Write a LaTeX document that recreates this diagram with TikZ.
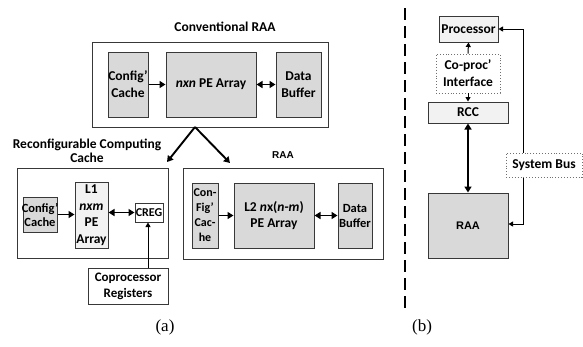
\documentclass[tikz,border=0pt]{standalone}
\usepackage{fontspec}
\setmainfont{Carlito}
\newfontfamily\capfont{Liberation Serif}
\newfontfamily\arialfont{Liberation Sans}
\usetikzlibrary{arrows.meta}
\definecolor{boxgray}{HTML}{D9D9D9}
\definecolor{boxlight}{HTML}{F2F2F2}
\definecolor{edge}{HTML}{383838}
\definecolor{dotedge}{HTML}{707070}

\begin{document}
\begin{tikzpicture}[x=1pt,y=-1pt,
  txt/.style={inner sep=0pt, align=center, font=\fontsize{13.5}{17}\selectfont\bfseries},
  graybox/.style={draw=edge, line width=1pt, inner sep=0pt, fill=boxgray},
  lightbox/.style={draw=edge, line width=1pt, inner sep=0pt, fill=boxlight},
  whitebox/.style={draw=edge, line width=1pt, inner sep=0pt, fill=white},
  frame/.style={draw=edge, line width=1pt, inner sep=0pt, fill=white},
  dotbox/.style={draw=dotedge, dotted, line width=0.9pt, inner sep=0pt, fill=white},
  heavy/.style={line width=1.9pt, -{Triangle[length=6pt,width=7pt]}},
  heavyboth/.style={line width=1.9pt, {Triangle[length=6pt,width=7pt]}-{Triangle[length=6pt,width=7pt]}},
  thin/.style={line width=1pt, -{Triangle[length=4.5pt,width=5pt]}},
  thinboth/.style={line width=1pt, {Triangle[length=4.5pt,width=5pt]}-{Triangle[length=4.5pt,width=5pt]}},
  sz/.style n args={2}{minimum width=#1, minimum height=#2}
]
\useasboundingbox (0,0) rectangle (583,346);

% ---------------- (a) conventional RAA ----------------
\node[txt] (convtitle) at (225,27) {Conventional RAA};
\node[frame, sz={236pt}{85pt}] (conv) at (210,84.5) {};
\node[graybox, sz={40pt}{65pt}] (ccache) at (128,84.5) {};
\node[txt] at (ccache.center) {Config'\\Cache};
\node[graybox, sz={90pt}{65pt}] (pe) at (211,84.5) {};
\node[txt] at (pe.center) {\textit{nxn} PE Array};
\node[graybox, sz={45pt}{65pt}] (dbuf) at (298.5,84.5) {};
\node[txt] at (dbuf.center) {Data\\Buffer};
\draw[heavy] (ccache.east) -- (pe.west);
\draw[heavyboth] (pe.east) -- (dbuf.west);

% split into the cache and the remaining array
\coordinate (apex) at (195,127);
\coordinate (tipl) at (167,162);
\coordinate (tipr) at (230,163);
\draw[heavy] (apex) -- (tipl);
\draw[heavy] (apex) -- (tipr);

% ---------------- reconfigurable computing cache ----------------
\node[txt, font=\fontsize{13.5}{14}\selectfont\bfseries] (rcctitle) at (87,151) {Reconfigurable Computing\\Cache};
\node[frame, sz={151pt}{90pt}] (rccbox) at (92.5,213) {};
\node[graybox, sz={34pt}{35pt}] (rcache) at (40,214.5) {};
\node[txt, font=\fontsize{12.5}{14}\selectfont\bfseries] at (rcache.center) {Config'\\Cache};
\node[lightbox, sz={33pt}{66pt}] (l1) at (91.5,215) {};
\node[txt, font=\fontsize{13.5}{16.5}\selectfont\bfseries] at (l1.center) {L1\\\textit{nxm}\\PE\\Array};
\node[whitebox, sz={28pt}{19pt}] (creg) at (149,212.5) {};
\node[txt, font=\fontsize{12}{14}\selectfont\bfseries] at (creg.center) {CREG};
\node[whitebox, sz={80pt}{36pt}] (copreg) at (128,286) {};
\node[txt, font=\fontsize{13}{16}\selectfont\bfseries] at (copreg.center) {Coprocessor\\Registers};
\draw[heavy] (rcache.east) -- (l1.west |- rcache.east);
\draw[heavyboth] (l1.east |- creg.west) -- (creg.west);
\draw[thin] (copreg.north -| creg.south) ++(-1,0) coordinate (cpup) -- (cpup |- creg.south);

% ---------------- remaining RAA ----------------
\node[txt, font=\arialfont\fontsize{10}{11}\selectfont\bfseries] (raatitle) at (283,155) {RAA};
\node[frame, sz={200pt}{91pt}] (raabox) at (283,213.5) {};
\node[graybox, sz={26pt}{65pt}] (rcache2) at (205,215.5) {};
\node[txt, font=\fontsize{12}{15}\selectfont\bfseries] at (rcache2.center) {Con-\\Fig'\\Cac-\\he};
\node[graybox, sz={80pt}{65pt}] (l2) at (274,215.5) {};
\node[txt, font=\fontsize{13.5}{15.5}\selectfont\bfseries] at (l2.center) {L2 \textit{n}x(\textit{n}-\textit{m})\\PE Array};
\node[graybox, sz={34pt}{65pt}] (dbuf2) at (355,215.5) {};
\node[txt, font=\fontsize{12.5}{15}\selectfont\bfseries] at (dbuf2.center) {Data\\Buffer};
\draw[heavy] (rcache2.east) -- (l2.west |- rcache2.east);
\draw[heavyboth] (l2.east) -- (dbuf2.west);

\node[font=\capfont\fontsize{17}{20}\selectfont] (capa) at (165,327) {(a)};

% ---------------- separator ----------------
\draw[line width=2.8pt, dash pattern=on 12pt off 6pt] (405,8) coordinate (sepTop) -- (405,313) coordinate (sepBot);

% ---------------- (b) system view ----------------
\node[lightbox, sz={59pt}{26pt}] (proc) at (468.5,29) {};
\node[txt] at (proc.center) {Processor};
\node[dotbox, sz={64pt}{39pt}] (cpi) at (468,73.5) {};
\node[txt] at (cpi.center) {Co-proc'\\Interface};
\node[lightbox, sz={80pt}{21pt}] (rcc) at (468,112.5) {};
\node[txt] at (rcc.center) {RCC};
\node[graybox, sz={80pt}{65pt}] (raa) at (468,225.5) {};
\node[txt, font=\arialfont\fontsize{11}{13}\selectfont\bfseries] at (raa.center) {RAA};

\draw[thin] (cpi.north) -- (proc.south);
\draw[thin] (cpi.south) -- (rcc.north);
\draw[heavyboth] (rcc.south) -- (raa.north);

\coordinate (busTop) at (523,29);
\coordinate (busBot) at (523,224);
\draw[thinboth] (proc.east) -- (busTop) -- (busBot) -- (raa.east |- busBot);
\node[dotbox, sz={76pt}{24pt}] (sysbus) at (544,165) {};
\node[txt] at (sysbus.center) {System Bus};

\node[font=\capfont\fontsize{17}{20}\selectfont] (capb) at (422,327) {(b)};
\end{tikzpicture}
\end{document}
